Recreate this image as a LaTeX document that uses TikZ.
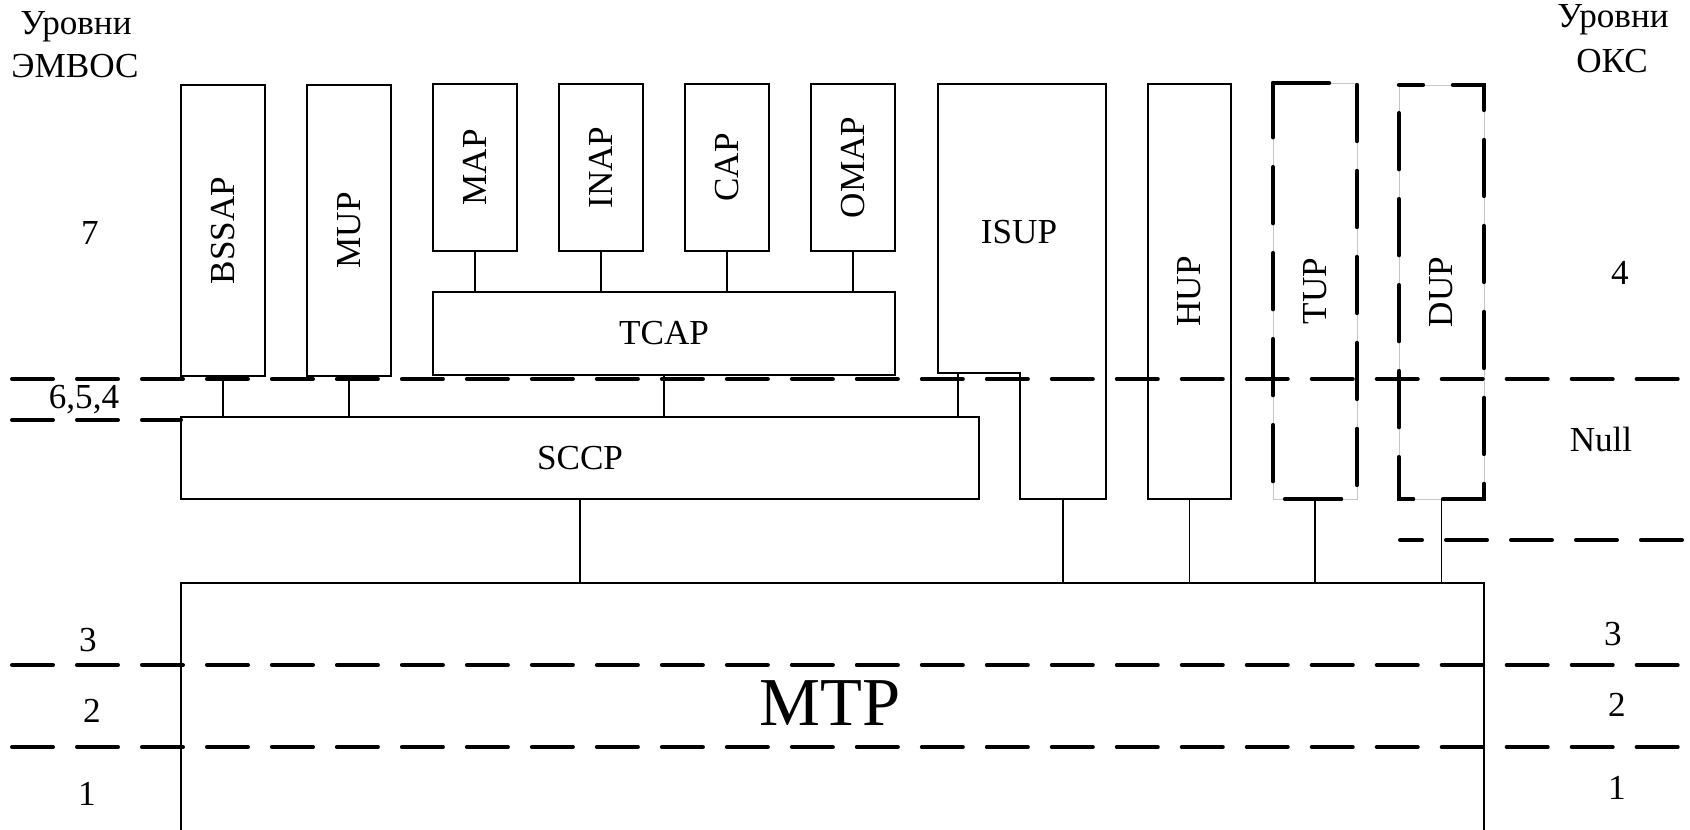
\documentclass[tikz,border=0pt]{standalone}
\usepackage{fontspec}
\setmainfont{Liberation Serif}
\usepackage{graphicx}
\usetikzlibrary{calc}
\tikzset{
    blk/.style={draw,line width=0.6pt,inner sep=0pt,outer sep=0pt,font=\fontsize{20}{24}\selectfont},
    optbox/.style={blk,draw=gray!45,line width=0.4pt},
    wh/.style 2 args={minimum width=#1*0.02cm,minimum height=#2*0.02cm},
    lvl/.style={anchor=base,inner sep=0pt,font=\fontsize{20}{24}\selectfont},
    link/.style={line width=0.6pt},
    sep/.style={line width=2.3pt,line cap=round,dash pattern=on 0.82cm off 0.48cm},
    optdash/.style={line width=2.5pt,line cap=round,dash pattern=on 1.12cm off 0.6cm},
}
\newcommand{\vtext}[1]{\rotatebox{90}{#1}}

\begin{document}
\begin{tikzpicture}[x=0.02cm,y=-0.02cm]
    \useasboundingbox (0,0) rectangle (1690,830);

    % level captions
    \node[lvl] (embl1) at (76,35) {Уровни};
    \node[lvl] (embl2) at (75,78) {ЭМВОС};
    \node[lvl] (oksl1) at (1613,28) {Уровни};
    \node[lvl] (oksl2) at (1612,73) {ОКС};
    \node[lvl] (l7) at (90,245) {7};
    \node[lvl] (l654) at (84,409) {6,5,4};
    \node[lvl] (l3) at (88,652) {3};
    \node[lvl] (l2) at (92,722) {2};
    \node[lvl] (l1) at (87,805) {1};
    \node[lvl] (r4) at (1620,285) {4};
    \node[lvl] (rnull) at (1601,452) {Null};
    \node[lvl] (r3) at (1613,645) {3};
    \node[lvl] (r2) at (1617,716) {2};
    \node[lvl] (r1) at (1617,799) {1};

    % user parts
    \node[blk,wh={84}{291}] (bssap) at (223,230.5) {\vtext{BSSAP}};
    \node[blk,wh={84}{291}] (mup) at (349,230.5) {\vtext{MUP}};
    \node[blk,wh={84}{167}] (map) at (475,167.5) {\vtext{MAP}};
    \node[blk,wh={84}{167}] (inap) at (601,167.5) {\vtext{INAP}};
    \node[blk,wh={84}{167}] (cap) at (727,167.5) {\vtext{CAP}};
    \node[blk,wh={84}{167}] (omap) at (853,167.5) {\vtext{OMAP}};
    \node[blk,wh={462}{83}] (tcap) at (664,333.5) {TCAP};
    \node[blk,wh={798}{82}] (sccp) at (580,458) {SCCP};
    \node[blk,wh={83}{415}] (hup) at (1189.5,291.5) {\vtext{HUP}};
    \node[optbox,wh={84}{416}] (tup) at (1315,291) {\vtext{TUP}};
    \node[optbox,wh={85}{414}] (dup) at (1441.5,292) {\vtext{DUP}};
    \node[blk,wh={1303}{257}] (mtp) at (832.5,711.5) {};
    \node[lvl,font=\fontsize{39}{44}\selectfont] (mtplbl) at (830,725) {MTP};

    % ISUP with its step
    \draw[link] (938,84) -- (1106,84) -- (1106,499) -- (1020,499) -- (1020,373) -- (938,373) -- cycle;
    \node[lvl,anchor=center] (isup) at (1019,232) {ISUP};
    \coordinate (isupstep) at (958,373);
    \coordinate (isupfoot) at (1063,499);

    % links
    \foreach \u in {map,inap,cap,omap}
        \draw[link] (\u.south) -- (\u.south |- tcap.north);
    \foreach \u in {bssap,mup,tcap}
        \draw[link] (\u.south) -- (\u.south |- sccp.north);
    \draw[link] (isupstep) -- (isupstep |- sccp.north);
    \foreach \u in {hup,tup,dup}
        \draw[link] (\u.south) -- (\u.south |- mtp.north);
    \draw[link] (sccp.south) -- (sccp.south |- mtp.north);
    \draw[link] (isupfoot) -- (isupfoot |- mtp.north);

    % optional parts
    \draw[optdash] (tup.north west) -- (tup.north east) -- (tup.south east) -- (tup.south west) -- cycle;
    \draw[optdash,dash phase=0.64cm] (dup.north west) -- (dup.north east) -- (dup.south east) -- (dup.south west) -- cycle;

    % level borders
    \draw[sep] (12,379) -- (1690,379);
    \draw[sep] (12,420) -- (181,420);
    \draw[sep] (12,665) -- (1690,665);
    \draw[sep] (12,747) -- (1690,747);
    \draw[sep,dash phase=0.38cm] (1400,540) -- (1690,540);
\end{tikzpicture}
\end{document}
